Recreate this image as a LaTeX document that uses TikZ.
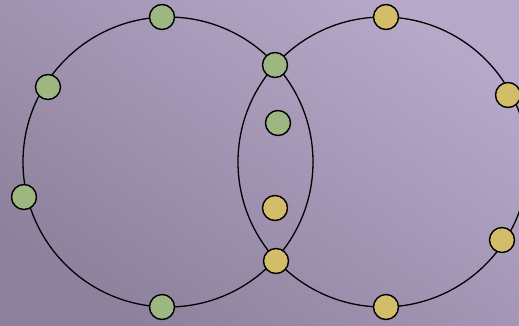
\documentclass[tikz,border=0pt]{standalone}
\usepackage{xcolor}
\usepackage{tikz}
\definecolor{bgtop}{HTML}{B6A8C8}
\definecolor{bgbot}{HTML}{8E819D}
\definecolor{vgreen}{HTML}{9DB783}
\definecolor{vyellow}{HTML}{D3BD68}

\begin{document}
\begin{tikzpicture}[
  x=1pt, y=-1pt,
  vtx/.style={circle, draw, line width=1.4pt, minimum size=25pt, inner sep=0pt},
  gv/.style={vtx, fill=vgreen},
  yv/.style={vtx, fill=vyellow},
  ring/.style={line width=1.3pt}
]
% background
\shade[top color=bgtop, bottom color=bgbot, shading angle=-35] (0,0) rectangle (519,325);
\useasboundingbox (0,0) rectangle (519,325);
% the two rings
\coordinate (cl) at (168,162);
\coordinate (cr) at (383,162);
\draw[ring] (cl) circle[radius=145];
\draw[ring] (cr) circle[radius=145];
% green vertices
\node[gv] (g1) at (162,17) {};
\node[gv] (g2) at (48,87) {};
\node[gv] (g3) at (24,197) {};
\node[gv] (g4) at (162,307) {};
\node[gv] (g5) at (275,65) {};
\node[gv] (g6) at (278,123) {};
% yellow vertices
\node[yv] (y1) at (386,17) {};
\node[yv] (y2) at (508,95) {};
\node[yv] (y3) at (502,240) {};
\node[yv] (y4) at (386,307) {};
\node[yv] (y5) at (276,261) {};
\node[yv] (y6) at (275,208) {};
\end{tikzpicture}
\end{document}
